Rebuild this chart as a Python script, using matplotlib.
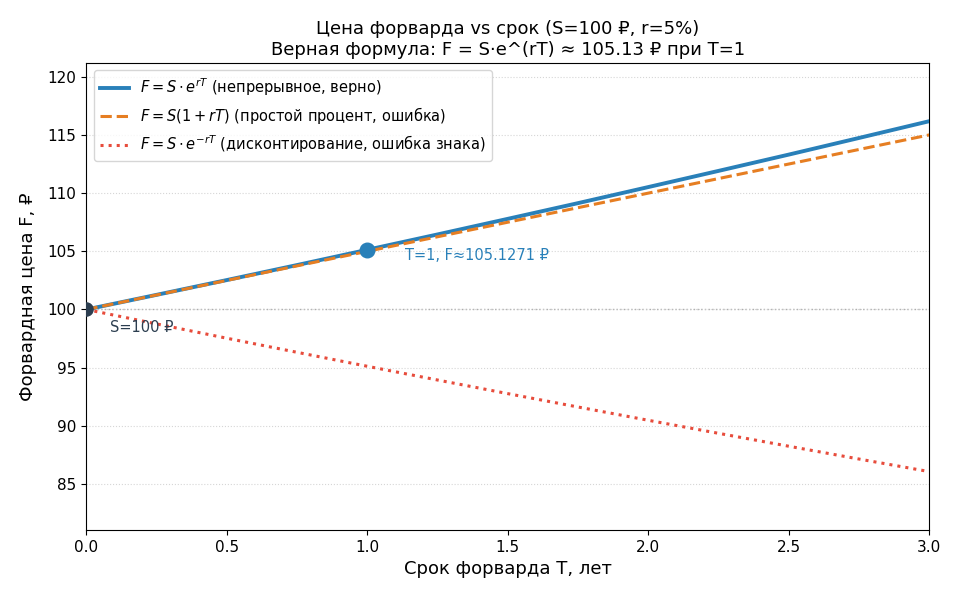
import matplotlib
matplotlib.use('Agg')
import matplotlib.pyplot as plt

# values
T = [0.0, 0.25, 0.5, 0.75, 1.0, 1.25, 1.5, 1.75, 2.0, 2.25, 2.5, 2.75, 3.0]
F_cont = [100.0, 101.26, 102.53, 103.82, 105.13, 106.45, 107.79, 109.14,
          110.52, 111.91, 113.31, 114.74, 116.18]
F_simple = [100.0, 101.25, 102.5, 103.75, 105.0, 106.25, 107.5, 108.75,
            110.0, 111.25, 112.5, 113.75, 115.0]
F_disc = [100.0, 98.76, 97.53, 96.32, 95.12, 93.94, 92.77, 91.62,
          90.48, 89.36, 88.25, 87.15, 86.07]
S = 100.0
T1, F1 = 1.0, 105.1271

BLUE = '#2980b9'
ORANGE = '#e67e22'
RED = '#e74c3c'
DARK = '#2c3e50'

fig, ax = plt.subplots(figsize=(9.6, 6.0), dpi=100)

ax.plot(T, F_cont, color=BLUE, lw=2.8, label=r'$F = S\cdot e^{rT}$ (непрерывное, верно)', zorder=3)
ax.plot(T, F_simple, color=ORANGE, lw=2.2, ls='--', label=r'$F = S(1 + rT)$ (простой процент, ошибка)', zorder=4)
ax.plot(T, F_disc, color=RED, lw=2.2, ls=':', label=r'$F = S\cdot e^{-rT}$ (дисконтирование, ошибка знака)', zorder=3)

ax.axhline(S, color='#999999', lw=1, ls=':', alpha=0.8, zorder=1)

ax.scatter([0], [S], s=90, color=DARK, zorder=5)
ax.scatter([T1], [F1], s=110, color=BLUE, zorder=5)

ax.annotate(f'S={S:.0f} ₽', xy=(0, S), xytext=(17, -13), textcoords='offset points',
            fontsize=10.5, color=DARK, va='center')
ax.annotate(f'T=1, F≈{F1:.4f} ₽', xy=(T1, F1), xytext=(27, -4), textcoords='offset points',
            fontsize=10.5, color=BLUE, va='center')

ax.set_xlim(0, 3)
ax.set_ylim(81.07, 121.18)
ax.set_xlabel('Срок форварда T, лет', fontsize=13)
ax.set_ylabel('Форвардная цена F, ₽', fontsize=13, labelpad=8)
ax.set_title('Цена форварда vs срок (S=100 ₽, r=5%)\nВерная формула: F = S·e^(rT) ≈ 105.13 ₽ при T=1',
             fontsize=13)
ax.tick_params(labelsize=11)
ax.grid(True, axis='y', ls=':', color='#cccccc', alpha=0.8)
ax.legend(loc='upper left', fontsize=10.5)

fig.subplots_adjust(left=0.09, right=0.968, top=0.895, bottom=0.117)
fig.savefig('out.png', dpi=100)
